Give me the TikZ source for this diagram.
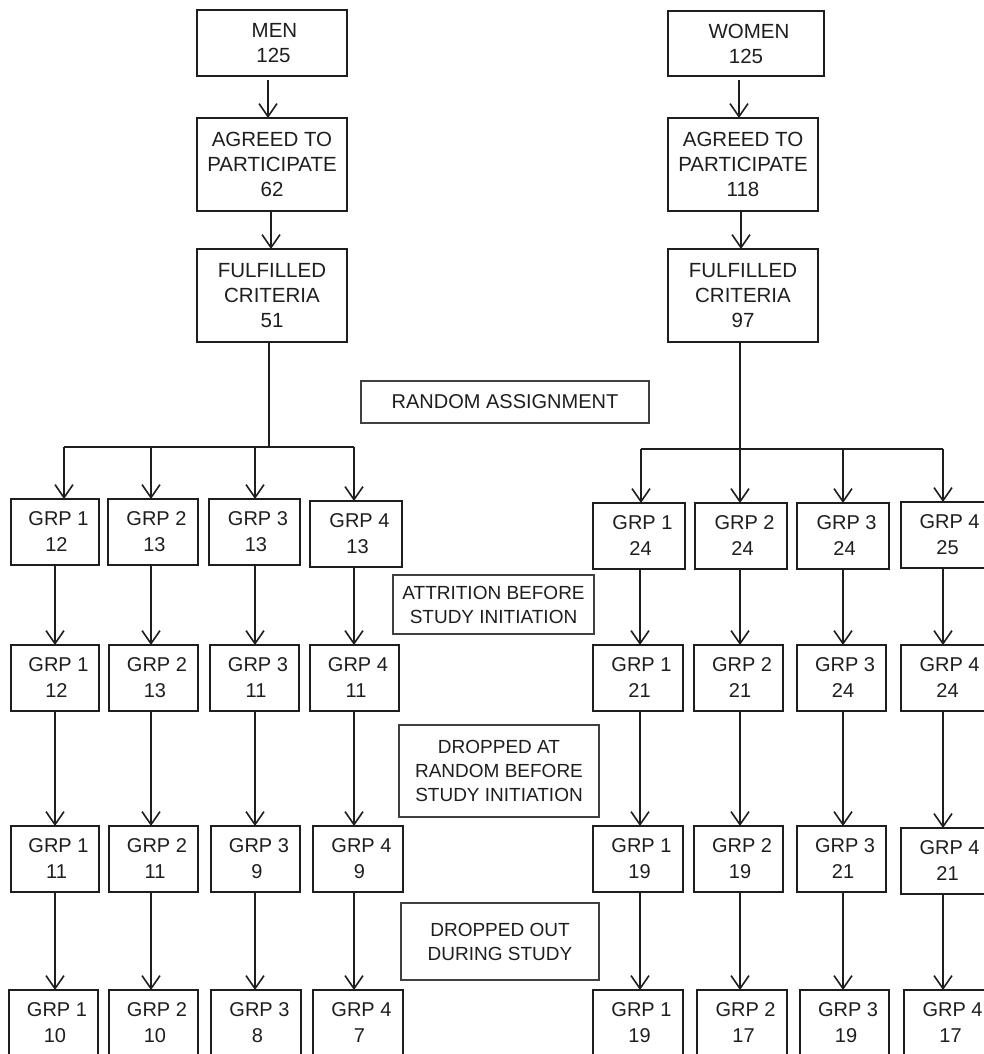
\documentclass[tikz,border=0pt]{standalone}
\usepackage{fontspec}
\setmainfont{Liberation Sans}
\usetikzlibrary{arrows.meta,calc}
\definecolor{ink}{HTML}{1E1E1E}
\newcommand\bx[7]{\node[#1, minimum width={(#4-#3)*1pt}, minimum height={(#6-#5)*1pt}] (#2) at ({(#3+#4)/2},{(#5+#6)/2}) {#7};}
\newcommand\gl[2]{\hspace*{7pt}GRP #1\\\hspace*{3pt}#2}
\begin{document}
\begin{tikzpicture}[x=1pt,y=-1pt,
  base/.style={draw=ink, text=ink, rectangle, inner sep=0pt, outer sep=0pt, align=center},
  topbox/.style={base, line width=1.7pt, font=\fontsize{20.5}{25}\selectfont},
  grpbox/.style={base, line width=1.7pt, font=\fontsize{20}{26}\selectfont},
  notebox/.style={base, line width=1.2pt, draw=ink!85, font=\fontsize{19}{24}\selectfont},
  ln/.style={draw=ink, line width=1.6pt},
  arr/.style={ln, -{Straight Barb[length=13pt,width=18pt]}}]
\useasboundingbox (0,0) rectangle (984,1054);
\clip (0,0) rectangle (984,1054);
% top boxes
\bx{topbox}{men}{197}{347}{10}{76}{\hspace*{5pt}MEN\\\hspace*{3pt}125}
\bx{topbox}{agL}{197}{347}{118}{211}{AGREED TO\\PARTICIPATE\\62}
\bx{topbox}{fuL}{197}{347}{249}{342}{FULFILLED\\CRITERIA\\51}
\bx{topbox}{women}{668}{824}{11}{76}{\hspace*{6pt}WOMEN\\125}
\bx{topbox}{agR}{668}{818}{118}{211}{AGREED TO\\PARTICIPATE\\118}
\bx{topbox}{fuR}{668}{818}{249}{342}{FULFILLED\\CRITERIA\\97}
% notes
\bx{notebox}{rand}{361}{649}{381}{423}{\fontsize{20}{24}\selectfont RANDOM ASSIGNMENT}
\bx{notebox}{attr}{393}{594}{575}{634}{ATTRITION BEFORE\\STUDY INITIATION}
\bx{notebox}{drop}{399}{599}{725}{817}{DROPPED AT\\RANDOM BEFORE\\STUDY INITIATION}
\bx{notebox}{out}{401}{599}{903}{980}{DROPPED OUT\\DURING STUDY}
% men groups
\bx{grpbox}{a1}{11}{99}{499}{565}{\gl{1}{12}}
\bx{grpbox}{a2}{108}{198}{499}{565}{\gl{2}{13}}
\bx{grpbox}{a3}{209}{300}{499}{565}{\gl{3}{13}}
\bx{grpbox}{a4}{310}{402}{501}{567}{\gl{4}{13}}
\bx{grpbox}{b1}{11}{99}{645}{711}{\gl{1}{12}}
\bx{grpbox}{b2}{109}{198}{645}{711}{\gl{2}{13}}
\bx{grpbox}{b3}{210}{299}{645}{711}{\gl{3}{11}}
\bx{grpbox}{b4}{310}{399}{645}{711}{\gl{4}{11}}
\bx{grpbox}{c1}{11}{99}{826}{892}{\gl{1}{11}}
\bx{grpbox}{c2}{109}{198}{826}{892}{\gl{2}{11}}
\bx{grpbox}{c3}{211}{300}{826}{892}{\gl{3}{9}}
\bx{grpbox}{c4}{313}{403}{826}{892}{\gl{4}{9}}
\bx{grpbox}{d1}{9}{98}{990}{1056}{\gl{1}{10}}
\bx{grpbox}{d2}{109}{198}{990}{1056}{\gl{2}{10}}
\bx{grpbox}{d3}{211}{301}{990}{1056}{\gl{3}{8}}
\bx{grpbox}{d4}{313}{403}{990}{1056}{\gl{4}{7}}
% women groups
\bx{grpbox}{e1}{593}{685}{503}{569}{\gl{1}{24}}
\bx{grpbox}{e2}{695}{787}{503}{569}{\gl{2}{24}}
\bx{grpbox}{e3}{797}{889}{503}{569}{\gl{3}{24}}
\bx{grpbox}{e4}{901}{991}{502}{568}{\gl{4}{25}}
\bx{grpbox}{f1}{593}{683}{645}{711}{\gl{1}{21}}
\bx{grpbox}{f2}{694}{783}{645}{711}{\gl{2}{21}}
\bx{grpbox}{f3}{797}{886}{645}{711}{\gl{3}{24}}
\bx{grpbox}{f4}{901}{991}{645}{711}{\gl{4}{24}}
\bx{grpbox}{g1}{593}{683}{826}{892}{\gl{1}{19}}
\bx{grpbox}{g2}{694}{783}{826}{892}{\gl{2}{19}}
\bx{grpbox}{g3}{797}{886}{826}{892}{\gl{3}{21}}
\bx{grpbox}{g4}{901}{991}{828}{894}{\gl{4}{21}}
\bx{grpbox}{h1}{593}{683}{990}{1056}{\gl{1}{19}}
\bx{grpbox}{h2}{697}{787}{990}{1056}{\gl{2}{17}}
\bx{grpbox}{h3}{800}{889}{990}{1056}{\gl{3}{19}}
\bx{grpbox}{h4}{904}{994}{990}{1056}{\gl{4}{17}}
% top arrows
\coordinate (tL1) at (268,80);
\coordinate (tL2) at (271,211);
\coordinate (tR1) at (739,80);
\coordinate (tR2) at (741,211);
\draw[arr] (tL1) -- (tL1 |- agL.north);
\draw[arr] (tL2) -- (tL2 |- fuL.north);
\draw[arr] (tR1) -- (tR1 |- agR.north);
\draw[arr] (tR2) -- (tR2 |- fuR.north);
% branching men
\coordinate (bL) at (269,447);
\coordinate (bL1) at (64,447);
\coordinate (bL2) at (151,447);
\coordinate (bL3) at (255,447);
\coordinate (bL4) at (354,447);
\draw[ln] (fuL.south -| bL) -- (bL);
\draw[ln] (bL1) -- (bL4);
\draw[arr] (bL1) -- (bL1 |- a1.north);
\draw[arr] (bL2) -- (bL2 |- a2.north);
\draw[arr] (bL3) -- (bL3 |- a3.north);
\draw[arr] (bL4) -- (bL4 |- a4.north);
% branching women
\coordinate (bR) at (740,449);
\coordinate (bR1) at (641,449);
\coordinate (bR2) at (740,449);
\coordinate (bR3) at (843,449);
\coordinate (bR4) at (943,449);
\draw[ln] (fuR.south -| bR) -- (bR);
\draw[ln] (bR1) -- (bR4);
\draw[arr] (bR1) -- (bR1 |- e1.north);
\draw[arr] (bR2) -- (bR2 |- e2.north);
\draw[arr] (bR3) -- (bR3 |- e3.north);
\draw[arr] (bR4) -- (bR4 |- e4.north);
% column connectors
\foreach \p/\q/\x in {a1/b1/55,b1/c1/55,c1/d1/55,a2/b2/151,b2/c2/151,c2/d2/151,a3/b3/255,b3/c3/255,c3/d3/255,a4/b4/354,b4/c4/354,c4/d4/354,
  e1/f1/640,f1/g1/640,g1/h1/640,e2/f2/740,f2/g2/740,g2/h2/740,e3/f3/843,f3/g3/843,g3/h3/843,e4/f4/943,f4/g4/943,g4/h4/943}
  \draw[arr] (\p.south -| {\x,0}) -- (\q.north -| {\x,0});
\end{tikzpicture}
\end{document}
